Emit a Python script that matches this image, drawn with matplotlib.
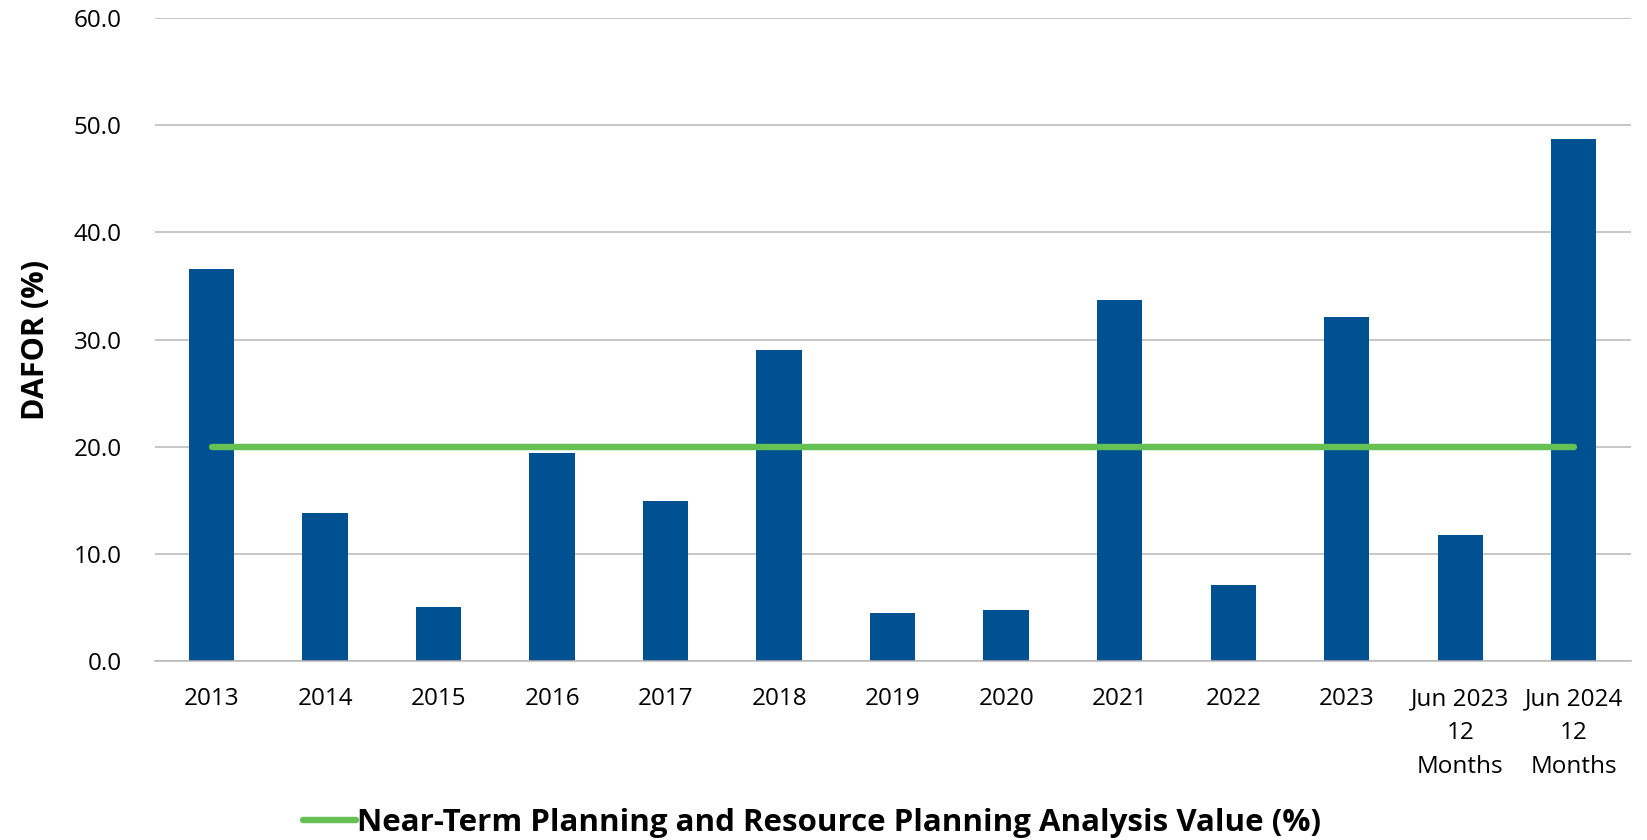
import numpy as np
import matplotlib
matplotlib.use("Agg")
import matplotlib.pyplot as plt

# values
categories = ["2013", "2014", "2015", "2016", "2017", "2018", "2019", "2020",
              "2021", "2022", "2023", "Jun 2023\n12\nMonths", "Jun 2024\n12\nMonths"]
dafor = [36.6, 13.8, 5.0, 19.4, 14.9, 29.0, 4.5, 4.8, 33.7, 7.1, 32.1, 11.8, 48.7]
planning_value = 20.0
yticks = [0, 10, 20, 30, 40, 50, 60]

plt.rcParams['font.family'] = ['Open Sans', 'DejaVu Sans']

fig = plt.figure(figsize=(16.47, 8.4), dpi=100)
ax = fig.add_axes([0.094, 0.213, 0.896, 0.7656])

x = np.arange(len(categories))
ax.bar(x, dafor, width=0.4, color="#005191", zorder=2)
line, = ax.plot([x[0], x[-1]], [planning_value, planning_value], color="#64c152",
                lw=4.6, solid_capstyle="round", zorder=3,
                label="Near-Term Planning and Resource Planning Analysis Value (%)")

ax.set_xlim(-0.5, len(categories) - 0.5)
ax.set_ylim(0, 60)
ax.set_yticks(yticks)
ax.set_yticklabels([f"{v:.1f}" for v in yticks], fontsize=17.5)
ax.set_xticks(x)
ax.set_xticklabels(categories, fontsize=17.5, linespacing=1.55)
ax.tick_params(axis="both", length=0, colors="black")
ax.tick_params(axis="y", pad=24)
ax.tick_params(axis="x", pad=19)

ax.grid(axis="y", color="#b8b8b8", lw=1.1, zorder=0)
for s in ["top", "right", "left"]:
    ax.spines[s].set_visible(False)
ax.spines["bottom"].set_color("#b8b8b8")
ax.spines["bottom"].set_linewidth(1.1)

ax.set_ylabel("DAFOR (%)", fontsize=22, fontweight="bold", labelpad=16)

fig.legend(handles=[line], loc="center", bbox_to_anchor=(0.493, 0.02), frameon=False,
           handlelength=1.7, handletextpad=0.05,
           prop={"size": 22.5, "weight": "bold"})

fig.savefig("out.png", dpi=100)
